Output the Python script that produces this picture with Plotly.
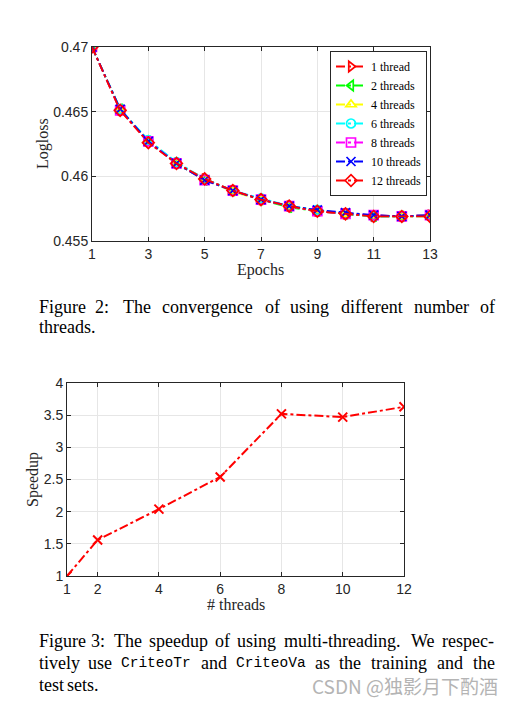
import plotly.graph_objects as go

# the page body has an 8px margin, so the figure is drawn 8px in from the window edge
OFF = 8
W, H = 516 - OFF, 703 - OFF


def px(x):
    return (x - OFF) / W


def py(y):
    return 1 - (y - OFF) / H


# ---------------- data ----------------
epochs = list(range(1, 14))
loss_1 = [0.4700, 0.4651, 0.4627, 0.4610, 0.4598, 0.4589, 0.4582, 0.4577, 0.4573, 0.4571, 0.4569, 0.4569, 0.4570]
loss_2 = [0.4700, 0.4652, 0.4627, 0.4610, 0.4597, 0.4589, 0.4582, 0.4576, 0.4573, 0.4571, 0.4569, 0.4569, 0.4569]
loss_4 = [0.4700, 0.4651, 0.4628, 0.4610, 0.4598, 0.4588, 0.4582, 0.4577, 0.4574, 0.4571, 0.4570, 0.4569, 0.4570]
loss_6 = [0.4700, 0.4652, 0.4628, 0.4611, 0.4598, 0.4589, 0.4583, 0.4577, 0.4574, 0.4571, 0.4569, 0.4569, 0.4570]
loss_8 = [0.4700, 0.4651, 0.4627, 0.4610, 0.4597, 0.4589, 0.4582, 0.4577, 0.4573, 0.4571, 0.4570, 0.4569, 0.4570]
loss_10 = [0.4700, 0.4652, 0.4627, 0.4610, 0.4597, 0.4589, 0.4582, 0.4577, 0.4574, 0.4572, 0.4570, 0.4569, 0.4570]
loss_12 = [0.4700, 0.4651, 0.4626, 0.4610, 0.4598, 0.4589, 0.4582, 0.4577, 0.4573, 0.4571, 0.4569, 0.4569, 0.4569]

series_names = ["1 thread", "2 threads", "4 threads", "6 threads", "8 threads", "10 threads", "12 threads"]
series_values = [loss_1, loss_2, loss_4, loss_6, loss_8, loss_10, loss_12]

x1_ticks = [1, 3, 5, 7, 9, 11, 13]
y1_ticks = [0.455, 0.46, 0.465, 0.47]
y1_ticklabels = ["0.455", "0.46", "0.465", "0.47"]

threads = [1, 2, 4, 6, 8, 10, 12]
speedup = [1.00, 1.56, 2.04, 2.54, 3.52, 3.47, 3.63]
y2_ticks = [1, 1.5, 2, 2.5, 3, 3.5, 4]
y2_ticklabels = ["1", "1.5", "2", "2.5", "3", "3.5", "4"]

caption2_lines = [
    ["Figure", "2:", "The", "convergence", "of", "using", "different", "number", "of"],
    ["threads."],
]
caption3_lines = [
    ["Figure", "3:", "The", "speedup", "of", "using", "multi-threading.", "We", "respec-"],
    ["tively", "use", "`CriteoTr", "and", "`CriteoVa", "as", "the", "training", "and", "the"],
    ["test", "sets."],
]
watermark = "CSDN @独影月下酌酒"

# ---------------- styles ----------------
colors = ["#ff0000", "#00ff00", "#ffff00", "#00ffff", "#ff00ff", "#0000ff", "#ff0000"]
symbols = ["triangle-right-open", "triangle-left-open", "triangle-up-open", "circle-open",
           "square-open", "x-thin-open", "diamond-open"]

SERIF = "Liberation Serif, Times New Roman, serif"
SANS = "Liberation Sans, Arial, sans-serif"
MONOF = "Liberation Mono, DejaVu Sans Mono, monospace"
AX = "#262626"
CAP_SIZE = 18
MONO_SIZE = 14.5

fig = go.Figure()

for name, vals, c, s in zip(series_names, series_values, colors, symbols):
    fig.add_trace(go.Scatter(
        x=epochs, y=vals, name=name, mode="lines+markers",
        line=dict(color=c, width=1.8, dash="dashdot"),
        marker=dict(symbol=s, size=9, color=c, line=dict(color=c, width=1.7)),
        xaxis="x", yaxis="y",
    ))

fig.add_trace(go.Scatter(
    x=threads, y=speedup, mode="lines+markers", showlegend=False,
    line=dict(color="#ff0000", width=2, dash="dashdot"),
    marker=dict(symbol="x-thin", size=9, color="#ff0000", line=dict(color="#ff0000", width=2)),
    xaxis="x2", yaxis="y2",
))

axis_common = dict(
    showline=True, linecolor=AX, linewidth=1, mirror="ticks",
    ticks="inside", ticklen=4, tickcolor=AX, tickwidth=1,
    showgrid=True, gridcolor="#e6e6e6", gridwidth=1,
    zeroline=False, automargin=False,
    tickfont=dict(family=SANS, size=14, color=AX),
)

fig.update_layout(
    width=W, height=H,
    margin=dict(l=0, r=0, t=0, b=0),
    paper_bgcolor="white", plot_bgcolor="white",
    xaxis=dict(domain=[px(92), px(430)], range=[1, 13], tickvals=x1_ticks,
               anchor="y", **axis_common),
    yaxis=dict(domain=[py(241), py(47)], range=[0.455, 0.47], tickvals=y1_ticks,
               ticktext=y1_ticklabels, anchor="x", **axis_common),
    xaxis2=dict(domain=[px(67), px(404)], range=[1, 12], tickvals=threads,
                anchor="y2", **axis_common),
    yaxis2=dict(domain=[py(576), py(383)], range=[1, 4], tickvals=y2_ticks,
                ticktext=y2_ticklabels, anchor="x2", **axis_common),
    legend=dict(x=px(427), xanchor="right", y=py(51), yanchor="top",
                bgcolor="white", bordercolor=AX, borderwidth=1,
                font=dict(family=SERIF, size=12, color="black"),
                tracegroupgap=0, itemwidth=30),
    showlegend=True,
)

ann = []
# axis titles
ann.append(dict(text="Logloss", x=px(43), y=py(144), textangle=-90, font=dict(family=SERIF, size=16, color=AX)))
ann.append(dict(text="Epochs", x=px(260), y=py(270), font=dict(family=SERIF, size=16, color=AX)))
ann.append(dict(text="Speedup", x=px(33), y=py(480), textangle=-90, font=dict(family=SERIF, size=16, color=AX)))
ann.append(dict(text="# threads", x=px(236), y=py(604), font=dict(family=SERIF, size=16, color=AX)))

# ---- justified caption layout (approximate Times advance widths, 1/1000 em) ----
TW = dict(a=444, b=500, c=444, d=500, e=444, f=333, g=500, h=500, i=278, j=278, k=500, l=278,
          m=778, n=500, o=500, p=500, q=500, r=333, s=389, t=278, u=500, v=500, w=722, x=500,
          y=500, z=444, F=556, T=611, W=944, C=667, V=722)
TW.update({":": 278, ".": 250, "-": 333, "2": 500, "3": 500})
WIDTH_FUDGE = 1.02


def word_width(w):
    if w.startswith("`"):
        return 0.6 * MONO_SIZE * (len(w) - 1)
    return sum(TW.get(ch, 500) for ch in w) / 1000 * CAP_SIZE * WIDTH_FUDGE


LEFT, RIGHT = 37, 495


def place_line(words, ycenter, justify):
    widths = [word_width(w) for w in words]
    # TeX puts a little more space after sentence punctuation
    weights = [1.3 if w.endswith((":", ".")) else 1.0 for w in words[:-1]]
    if justify and len(words) > 1:
        unit = (RIGHT - LEFT - sum(widths)) / sum(weights)
    else:
        unit = 0.25 * CAP_SIZE
    x = LEFT
    for i, w in enumerate(words):
        mono = w.startswith("`")
        font = dict(family=MONOF if mono else SERIF, size=MONO_SIZE if mono else CAP_SIZE, color="black")
        if i == 0:
            xa, xpos = "left", x
        else:
            xa, xpos = "center", x + widths[i] / 2
        ann.append(dict(text=w.lstrip("`"), x=px(xpos), y=py(ycenter), xanchor=xa, font=font))
        if i < len(words) - 1:
            x += widths[i] + unit * weights[i]


cap2_y = [307, 327]
for k, words in enumerate(caption2_lines):
    place_line(words, cap2_y[k], justify=(k < len(caption2_lines) - 1))
cap3_y = [641, 663, 685]
for k, words in enumerate(caption3_lines):
    place_line(words, cap3_y[k], justify=(k < len(caption3_lines) - 1))

# watermark
ann.append(dict(text=watermark, x=px(500), y=py(685), xanchor="right",
                font=dict(family="Noto Sans CJK SC, sans-serif", size=19, color="#b4b4b4")))

for a in ann:
    a.setdefault("xanchor", "center")
    a.update(xref="paper", yref="paper", showarrow=False, yanchor="middle")
fig.update_layout(annotations=ann)

fig.write_html("out.html")
